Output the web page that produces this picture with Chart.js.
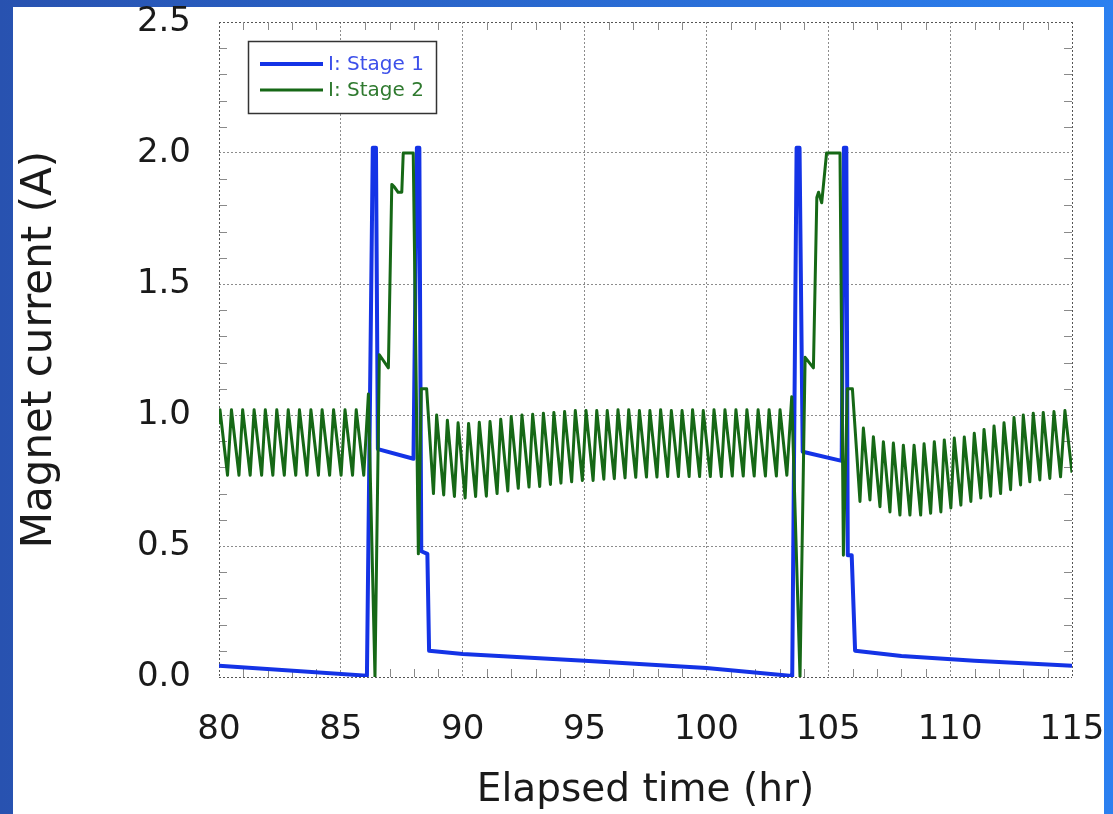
<!DOCTYPE html>
<html>
<head>
<meta charset="utf-8">
<script src="https://cdn.jsdelivr.net/npm/chart.js@4.4.1/dist/chart.umd.min.js"></script>
<style>
  html, body { margin: 0; padding: 0; }
  body {
    width: 1113px; height: 814px; overflow: hidden; position: relative;
    background: linear-gradient(to right, #2852b0, #2b80f0);
  }
  #panel { position: absolute; left: 13px; top: 7px; width: 1091px; height: 820px; background: #fff; }
  #chart { position: absolute; left: 0; top: 0; }
</style>
</head>
<body>
<div id="panel"></div>
<canvas id="chart" width="1113" height="814"></canvas>
<script>
// Stage 1 magnet current (blue)
const stage1Time = [80.00, 86.07, 86.31, 86.44, 86.52, 87.98, 88.12, 88.22, 88.30, 88.55, 88.62,
  90.00, 95.00, 100.00, 103.52, 103.70, 103.82, 103.95, 105.55, 105.64, 105.74, 105.80, 105.96, 106.10,
  108.00, 111.00, 115.00];
const stage1Current = [0.043, 0.005, 2.02, 2.02, 0.87, 0.833, 2.02, 2.02, 0.48, 0.47, 0.10,
  0.088, 0.062, 0.034, 0.004, 2.02, 2.02, 0.86, 0.825, 2.02, 2.02, 0.465, 0.465, 0.10,
  0.08, 0.062, 0.043];

// Stage 2 magnet current (green)
const stage2Time = [
  80.00, 80.04, 80.35, 80.51, 80.82, 80.97, 81.28, 81.44, 81.75, 81.90, 82.21, 82.37, 82.68, 82.84,
  83.15, 83.30, 83.61, 83.77, 84.08, 84.23, 84.54, 84.70, 85.01, 85.17, 85.48, 85.63, 85.94, 86.13,
  86.40, 86.58, 86.95, 87.09, 87.20, 87.35, 87.50, 87.56, 87.97, 88.18, 88.30, 88.52, 88.80,
  88.93, 89.22, 89.37, 89.66, 89.81, 90.10, 90.24, 90.53, 90.68, 90.97, 91.12, 91.41, 91.56, 91.85,
  91.99, 92.28, 92.43, 92.72, 92.87, 93.16, 93.31, 93.60, 93.74, 94.03, 94.18, 94.47, 94.62, 94.91,
  95.06, 95.35, 95.50, 95.79, 95.93, 96.22, 96.37, 96.66, 96.81, 97.10, 97.25, 97.54, 97.68, 97.97,
  98.12, 98.41, 98.56, 98.85, 99.00, 99.29, 99.43, 99.72, 99.87, 100.16, 100.31, 100.61,
  100.76, 101.06, 101.21, 101.51, 101.66, 101.96, 102.12, 102.42, 102.57, 102.87, 103.02, 103.30, 103.50,
  103.84, 104.05, 104.39, 104.53, 104.60, 104.73, 104.93, 105.48, 105.62, 105.78, 105.99, 106.30,
  106.44, 106.71, 106.85, 107.12, 107.26, 107.53, 107.67, 107.94, 108.08, 108.35, 108.52, 108.79,
  108.93, 109.20, 109.35, 109.62, 109.76, 110.03, 110.17, 110.44, 110.58, 110.85, 110.99, 111.26,
  111.39, 111.66, 111.80, 112.07, 112.21, 112.48, 112.62, 112.89, 113.00, 113.27, 113.41, 113.68,
  113.82, 114.09, 114.26, 114.53, 114.71, 115.00
];
const stage2Current = [
  0.97, 1.02, 0.77, 1.02, 0.77, 1.02, 0.77, 1.02, 0.77, 1.02, 0.77, 1.02, 0.77, 1.02,
  0.77, 1.02, 0.77, 1.02, 0.77, 1.02, 0.77, 1.02, 0.77, 1.02, 0.77, 1.02, 0.77, 1.08,
  0.0, 1.23, 1.18, 1.88, 1.87, 1.85, 1.85, 2.0, 2.0, 0.47, 1.1, 1.1, 0.70,
  1.00, 0.695, 0.98, 0.689, 0.97, 0.683, 0.968, 0.689, 0.972, 0.69, 0.975, 0.70, 0.984, 0.71,
  0.994, 0.72, 1.00, 0.725, 1.003, 0.727, 1.007, 0.735, 1.01, 0.74, 1.013, 0.745, 1.017, 0.75,
  1.017, 0.75, 1.017, 0.755, 1.017, 0.757, 1.02, 0.76, 1.02, 0.762, 1.017, 0.763, 1.017, 0.763,
  1.02, 0.765, 1.017, 0.765, 1.017, 0.765, 1.02, 0.765, 1.017, 0.765, 1.02, 0.765,
  1.02, 0.767, 1.02, 0.767, 1.02, 0.767, 1.02, 0.767, 1.02, 0.767, 1.02, 0.77, 1.07,
  0.0, 1.22, 1.18, 1.83, 1.85, 1.81, 2.0, 2.0, 0.465, 1.1, 1.1, 0.67,
  0.95, 0.676, 0.917, 0.65, 0.898, 0.63, 0.893, 0.618, 0.885, 0.618, 0.885, 0.618,
  0.89, 0.625, 0.898, 0.63, 0.905, 0.645, 0.912, 0.656, 0.916, 0.67, 0.93, 0.683,
  0.945, 0.69, 0.958, 0.70, 0.97, 0.715, 0.99, 0.733, 1.0, 0.745, 1.007, 0.752,
  1.01, 0.758, 1.013, 0.764, 1.017, 0.78
];

const xTicks = [80, 85, 90, 95, 100, 105, 110, 115];
const yTicks = [0.0, 0.5, 1.0, 1.5, 2.0, 2.5];

const toPoints = (xs, ys) => xs.map((t, i) => ({ x: t, y: ys[i] }));

// petits traits de graduation vers l'intérieur + légende dans le cadre
const frameExtras = {
  id: 'frameExtras',
  beforeDatasetsDraw(chart) {
    const { ctx, chartArea: a, scales: { x, y } } = chart;
    ctx.save();
    ctx.strokeStyle = '#8a8a8a';
    ctx.lineWidth = 1;
    ctx.beginPath();
    for (let v = Math.ceil(x.min); v <= x.max; v++) {
      if (v % 5 === 0) continue;
      const px = Math.round(x.getPixelForValue(v)) + 0.5;
      ctx.moveTo(px, a.bottom); ctx.lineTo(px, a.bottom - 8);
      ctx.moveTo(px, a.top); ctx.lineTo(px, a.top + 8);
    }
    for (let i = 1; i < 25; i++) {
      if (i % 5 === 0) continue;
      const py = Math.round(y.getPixelForValue(i / 10)) + 0.5;
      ctx.moveTo(a.left, py); ctx.lineTo(a.left + 8, py);
      ctx.moveTo(a.right, py); ctx.lineTo(a.right - 8, py);
    }
    ctx.stroke();
    ctx.restore();
  },
  afterDraw(chart) {
    const { ctx, chartArea: a } = chart;
    const bx = a.left + 29, by = a.top + 19;
    ctx.save();
    ctx.fillStyle = '#fff';
    ctx.fillRect(bx, by, 188, 72);
    ctx.strokeStyle = '#333';
    ctx.lineWidth = 1.5;
    ctx.strokeRect(bx + 0.5, by + 0.5, 188, 72);
    ctx.font = '20px "DejaVu Sans"';
    ctx.textBaseline = 'middle';
    chart.data.datasets.forEach((ds, i) => {
      const ly = by + 23 + i * 26;
      ctx.strokeStyle = ds.borderColor;
      ctx.lineWidth = ds.borderWidth;
      ctx.beginPath();
      ctx.moveTo(bx + 12, ly); ctx.lineTo(bx + 75, ly);
      ctx.stroke();
      ctx.fillStyle = ds.legendText;
      ctx.fillText(ds.label, bx + 80, ly + 1);
    });
    ctx.restore();
  }
};

const gridColor = ctx => {
  const s = ctx.scale;
  if (ctx.tick && (ctx.tick.value === s.min || ctx.tick.value === s.max)) return '#555';
  return '#8c8c8c';
};

new Chart(document.getElementById('chart'), {
  type: 'line',
  data: {
    datasets: [
      {
        label: 'I: Stage 1',
        data: toPoints(stage1Time, stage1Current),
        borderColor: '#1433e6',
        legendText: '#3d50ea',
        borderWidth: 4,
        borderJoinStyle: 'round',
        pointRadius: 0,
        tension: 0,
        order: 2
      },
      {
        label: 'I: Stage 2',
        data: toPoints(stage2Time, stage2Current),
        borderColor: '#166816',
        legendText: '#2f7a2f',
        borderWidth: 3,
        borderJoinStyle: 'round',
        pointRadius: 0,
        tension: 0,
        order: 1
      }
    ]
  },
  options: {
    responsive: false,
    animation: false,
    devicePixelRatio: 1,
    layout: { padding: { top: 22, right: 41, bottom: 0, left: 0 } },
    plugins: { legend: { display: false }, tooltip: { enabled: false } },
    scales: {
      x: {
        type: 'linear',
        min: 80, max: 115,
        afterBuildTicks: s => { s.ticks = xTicks.map(v => ({ value: v })); },
        afterFit: s => { s.height = 137; s.paddingLeft = 0; s.paddingRight = 0; },
        ticks: { font: { family: 'DejaVu Sans', size: 34 }, color: '#1a1a1a', padding: 33, maxRotation: 0 },
        grid: { color: gridColor, lineWidth: 1, drawTicks: false },
        border: { display: false, dash: [2, 2] },
        title: {
          display: true, text: 'Elapsed time (hr)',
          font: { family: 'DejaVu Sans', size: 39 }, color: '#1a1a1a', padding: { top: 0, bottom: 0 }
        }
      },
      y: {
        min: 0, max: 2.5,
        afterBuildTicks: s => { s.ticks = yTicks.map(v => ({ value: v })); },
        afterFit: s => { s.width = 219; s.paddingTop = 0; s.paddingBottom = 0; },
        ticks: {
          font: { family: 'DejaVu Sans', size: 34 }, color: '#1a1a1a', padding: 28,
          callback: v => v.toFixed(1)
        },
        grid: { color: gridColor, lineWidth: 1, drawTicks: false },
        border: { display: false, dash: [2, 2] },
        title: {
          display: true, text: 'Magnet current (A)',
          font: { family: 'DejaVu Sans', size: 42 }, color: '#1a1a1a', padding: { top: 15, bottom: 0 }
        }
      }
    }
  },
  plugins: [frameExtras]
});
</script>
</body>
</html>
